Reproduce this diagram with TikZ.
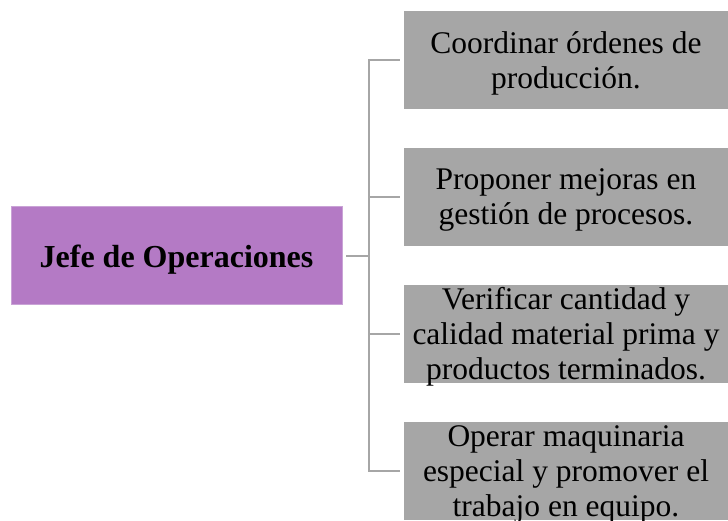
\documentclass[tikz,border=0pt]{standalone}
\usepackage{fontspec}
\setmainfont{Liberation Serif}
\definecolor{taskgray}{HTML}{A6A6A6}
\definecolor{linegray}{HTML}{A6A6A6}
\definecolor{headpurple}{HTML}{B47AC5}
\definecolor{headedge}{HTML}{C9A3D6}
% lines of a task box: zero-size box so the box keeps its fixed size
\newcommand{\tasklines}[1]{\raisebox{-10pt}[0pt][0pt]{\begin{tabular}{@{}c@{}}#1\end{tabular}}}
\begin{document}
\begin{tikzpicture}[x=1pt,y=-1pt,
  taskbox/.style={fill=taskgray, minimum width=324pt, minimum height=98pt,
    inner sep=0pt, font=\fontsize{31.5}{35}\selectfont},
  headbox/.style={fill=headpurple, draw=headedge, line width=0.8pt,
    minimum width=331pt, minimum height=98pt, inner sep=0pt,
    text height=26pt, text depth=2pt,
    font=\fontsize{32}{36}\selectfont\bfseries},
  conn/.style={draw=linegray, line width=2pt}]
\useasboundingbox (0,0) rectangle (728,520);
\node[headbox] (J) at (176.5,255) {Jefe de Operaciones};
\node[taskbox] (b1) at (566,60) {\tasklines{Coordinar órdenes de\\producción.}};
\node[taskbox] (b2) at (566,196.5) {\tasklines{Proponer mejoras en\\gestión de procesos.}};
\node[taskbox] (b3) at (566,334) {\tasklines{Verificar cantidad y\\calidad material prima y\\productos terminados.}};
\node[taskbox] (b4) at (566,471) {\tasklines{Operar maquinaria\\especial y promover el\\trabajo en equipo.}};
\coordinate (trunk) at (369,256);
\draw[conn, shorten <=4pt] (J.east |- trunk) -- (trunk);
\foreach \b in {b1,b2,b3,b4}
  \draw[conn, shorten >=4pt] (trunk) |- (\b.west);
\end{tikzpicture}
\end{document}
